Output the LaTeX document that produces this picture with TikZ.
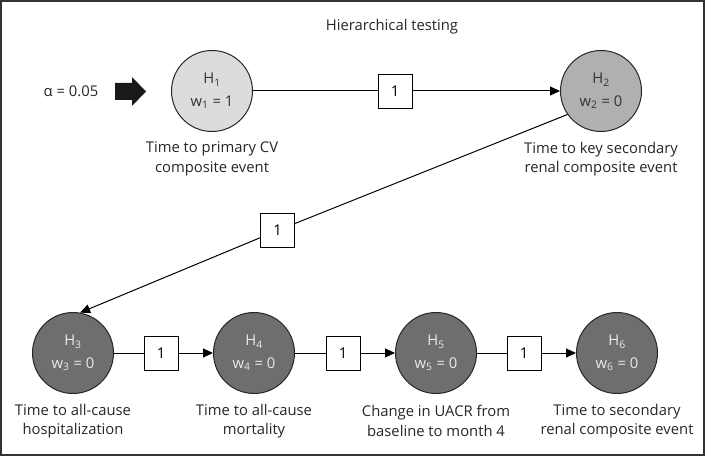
\documentclass[tikz,border=0pt]{standalone}
\usepackage{fontspec}
\setmainfont{Open Sans}
\usetikzlibrary{arrows.meta}
\definecolor{hlight}{HTML}{DCDCDC}
\definecolor{hmid}{HTML}{B0B0B0}
\definecolor{hdark}{HTML}{6E6E6E}
\definecolor{frame}{HTML}{333333}
\begin{document}
\begin{tikzpicture}[x=1pt,y=-1pt,
  every node/.style={font=\fontsize{14.8}{19.5}\selectfont},
  hyp/.style={circle,draw=black!85,line width=1pt,minimum size=81pt,inner sep=0pt,align=center,font=\fontsize{14.8}{22.5}\selectfont},
  hypA/.style={hyp,fill=hlight,text=black!80},
  hypB/.style={hyp,fill=hmid,text=black!80},
  hypC/.style={hyp,fill=hdark,text=white!92!black},
  wbox/.style={rectangle,draw=black,line width=0.9pt,fill=white,minimum width=34pt,minimum height=34pt,inner sep=0pt},
  desc/.style={align=center,text=black!85},
  conn/.style={line width=1pt,black},
  arr/.style={conn,-{Triangle[length=10pt,width=9pt]}}
]
\useasboundingbox (0,0) rectangle (708,457);
\draw[frame,line width=1.4pt] (1,1) rectangle (704,455);

\node[text=black!85] (title) at (392,27) {Hierarchical testing};

\node[text=black!85] (alpha) at (71,91) {α = 0.05};
\fill[black!90] (115,83) -- (132,83) -- (132,77) -- (146,91.5) -- (132,106) -- (132,100) -- (115,100) -- cycle;

\node[hypA] (H1) at (212,91) {H\textsubscript{1}\\w\textsubscript{1} = 1};
\node[hypB] (H2) at (601,91) {H\textsubscript{2}\\w\textsubscript{2} = 0};
\node[hypC] (H3) at (73,353) {H\textsubscript{3}\\w\textsubscript{3} = 0};
\node[hypC] (H4) at (254,353) {H\textsubscript{4}\\w\textsubscript{4} = 0};
\node[hypC] (H5) at (436,353) {H\textsubscript{5}\\w\textsubscript{5} = 0};
\node[hypC] (H6) at (617,353) {H\textsubscript{6}\\w\textsubscript{6} = 0};

\node[desc] (d1) at (212,159) {Time to primary CV\\composite event};
\node[desc] (d2) at (601,159) {Time to key secondary\\renal composite event};
\node[desc] (d3) at (73,421) {Time to all-cause\\hospitalization};
\node[desc] (d4) at (254,421) {Time to all-cause\\mortality};
\node[desc] (d5) at (436,421) {Change in UACR from\\baseline to month 4};
\node[desc] (d6) at (617,421) {Time to secondary\\renal composite event};

\node[wbox] (b12) at (395,91) {1};
\node[wbox] (b23) at (277.5,230.5) {1};
\node[wbox] (b34) at (161,353) {1};
\node[wbox] (b45) at (343,353) {1};
\node[wbox] (b56) at (524,353) {1};

\draw[conn] (H1) -- (b12);
\draw[arr] (b12) -- (H2);
\draw[conn] (H2.215) -- (b23);
\draw[arr] (b23) -- (H3.80);
\draw[conn] (H3) -- (b34);
\draw[arr] (b34) -- (H4);
\draw[conn] (H4) -- (b45);
\draw[arr] (b45) -- (H5);
\draw[conn] (H5) -- (b56);
\draw[arr] (b56) -- (H6);
\end{tikzpicture}
\end{document}
